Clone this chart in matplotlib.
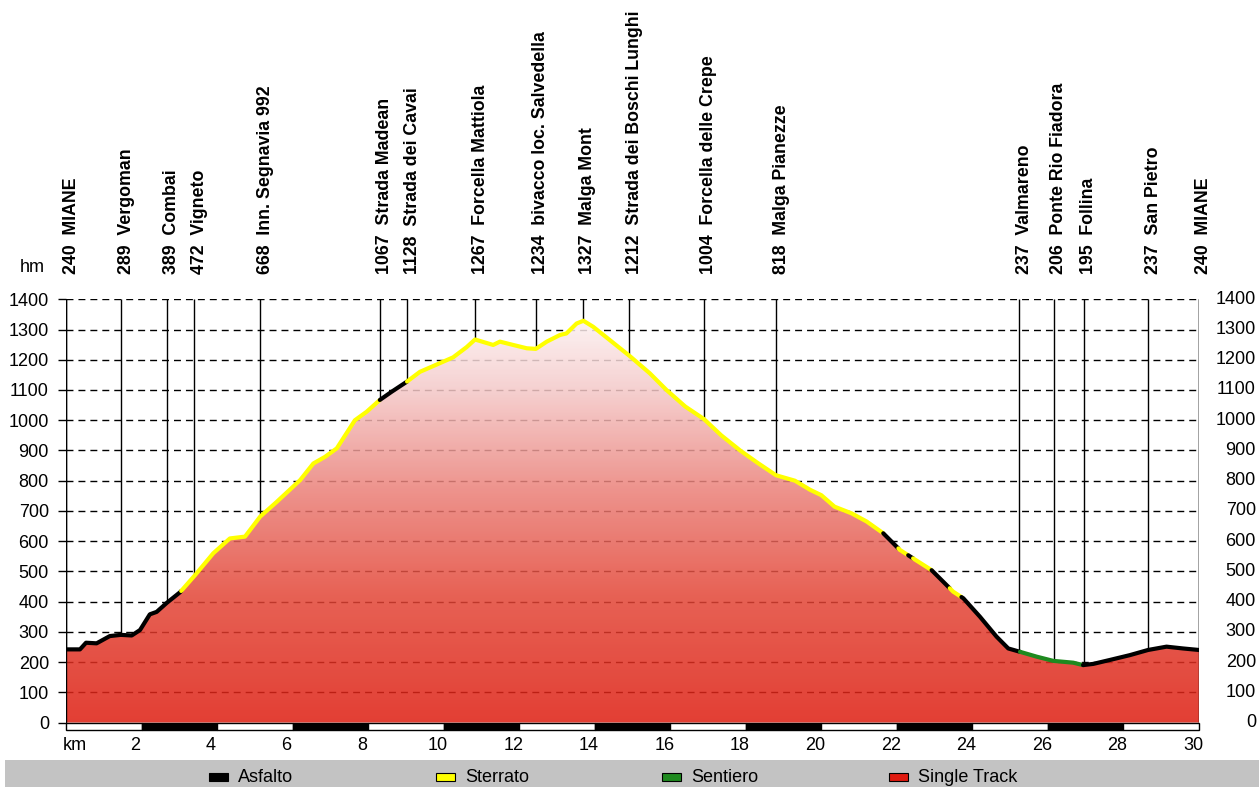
import matplotlib
matplotlib.use('Agg')
import matplotlib.pyplot as plt
import numpy as np
from matplotlib.patches import Rectangle, Polygon
from matplotlib.colors import LinearSegmentedColormap

plt.rcParams['font.family'] = ['Liberation Sans', 'DejaVu Sans']

# elevation profile (km, m)
km = [0.00, 0.37, 0.53, 0.81, 1.16, 1.45, 1.74, 1.96, 2.22, 2.40, 2.67, 3.02,
      3.42, 3.90, 4.34, 4.74, 5.14, 5.58, 6.20, 6.55, 6.86, 7.17, 7.65, 7.96,
      8.31, 8.62, 9.02, 9.37, 9.72, 10.25, 10.61, 10.83, 11.31, 11.49, 11.84,
      12.20, 12.44, 12.73, 13.08, 13.25, 13.52, 13.70, 13.96, 14.45, 14.93,
      15.46, 15.90, 16.40, 16.89, 17.35, 17.85, 18.30, 18.80, 19.30, 19.70,
      20.00, 20.35, 20.80, 21.20, 21.64, 22.08, 22.43, 22.92, 23.49, 23.76,
      24.20, 24.64, 24.95, 25.26, 25.70, 26.14, 26.67, 26.93, 27.20, 27.64,
      28.17, 28.65, 29.14, 29.58, 30.00]
elev = [242, 242, 264, 262, 286, 290, 288, 306, 358, 366, 396, 431,
        488, 560, 609, 615, 681, 730, 802, 857, 879, 907, 1000, 1028,
        1067, 1094, 1127, 1160, 1179, 1208, 1242, 1267, 1249, 1260, 1249,
        1238, 1236, 1260, 1282, 1287, 1320, 1329, 1309, 1260, 1212,
        1155, 1100, 1045, 1004, 950, 900, 860, 818, 800, 770,
        752, 714, 692, 665, 626, 571, 543, 504, 433, 411,
        350, 284, 245, 234, 218, 204, 198, 190, 194, 207,
        223, 240, 251, 245, 240]

# waypoints
wp_km = [0.0, 1.46, 2.67, 3.39, 5.14, 8.31, 9.03, 10.84, 12.44, 13.68, 14.92,
         16.89, 18.80, 25.24, 26.16, 26.95, 28.65, 30.0]
wp_elev = [240, 289, 389, 472, 668, 1067, 1128, 1267, 1234, 1327, 1212,
           1004, 818, 237, 206, 195, 237, 240]
wp_name = ['MIANE', 'Vergoman', 'Combai', 'Vigneto', 'Inn. Segnavia 992',
           'Strada Madean', 'Strada dei Cavai', 'Forcella Mattiola',
           'bivacco loc. Salvedella', 'Malga Mont', 'Strada dei Boschi Lunghi',
           'Forcella delle Crepe', 'Malga Pianezze', 'Valmareno',
           'Ponte Rio Fiadora', 'Follina', 'San Pietro', 'MIANE']

# surface type along the track: 0 asfalto, 1 sterrato, 2 sentiero
seg_start = [0.0, 3.05, 8.31, 9.03, 21.64, 22.04, 22.30, 22.43, 22.92, 23.40, 23.71, 25.26, 26.93]
seg_end = [3.05, 8.31, 9.03, 21.64, 22.04, 22.30, 22.43, 22.92, 23.40, 23.71, 25.26, 26.93, 30.0]
seg_type = [0, 1, 0, 1, 0, 1, 0, 1, 0, 1, 0, 2, 0]

surface_names = ['Asfalto', 'Sterrato', 'Sentiero', 'Single Track']
surface_colors = ['#000000', '#ffff00', '#1f8a1f', '#e01a10']

y_ticks = list(range(0, 1401, 100))
x_ticks = list(range(2, 31, 2))

W, H = 1259, 787
fig = plt.figure(figsize=(W / 100, H / 100), dpi=100)
ax = fig.add_axes([66 / W, (H - 730.4) / H, (1199 - 66) / W, (730.4 - 299.3) / H])
for s in ax.spines.values():
    s.set_visible(False)

# dashed grid
ax.hlines(y_ticks[1:], 0, 30, colors='black', linestyles=(0, (5, 3.6)), linewidth=1, zorder=1)

# gradient fill below profile
kma = np.array(km)
ela = np.array(elev)
poly = Polygon([(0, 0)] + list(zip(km, elev)) + [(30, 0)], closed=True,
               facecolor='none', edgecolor='none')
ax.add_patch(poly)
cmap = LinearSegmentedColormap.from_list('prof', [
    (0.0, (0.87, 0.11, 0.06)),
    (0.3, (0.89, 0.27, 0.21)),
    (0.55, (0.92, 0.50, 0.47)),
    (0.8, (0.96, 0.80, 0.80)),
    (1.0, (1.0, 0.99, 0.99))])
grad = np.linspace(0, 1, 256).reshape(-1, 1)
im = ax.imshow(grad, extent=(0, 30, 0, 1400), origin='lower', cmap=cmap,
               aspect='auto', alpha=0.85, zorder=2)
im.set_clip_path(poly)

# waypoint lines
bottoms = np.interp(wp_km, kma, ela)
ax.vlines(wp_km, bottoms, 1400, colors='black', linewidth=1, zorder=3)
ax.plot([0, 0], [0, 1400], color='black', lw=1, zorder=3)
ax.plot([30, 30], [0, 1400], color='black', lw=1, zorder=3)

# coloured profile line
for s, e, t in zip(seg_start, seg_end, seg_type):
    m = (kma > s) & (kma < e)
    xs = np.concatenate([[s], kma[m], [e]])
    ys = np.interp(xs, kma, ela)
    ax.plot(xs, ys, color=surface_colors[t], lw=3.0, solid_capstyle='round',
            solid_joinstyle='round', zorder=4)

# km scale bar
for i in range(15):
    ax.add_patch(Rectangle((2 * i, -26), 2, 26, facecolor='white' if i % 2 == 0 else 'black',
                           edgecolor='black', lw=1, zorder=5, clip_on=False))

ax.set_xlim(0, 30)
ax.set_ylim(-26, 1400)
ax.set_xticks([])
ax.set_yticks(y_ticks)
ax.tick_params(axis='y', length=5.8, width=1, pad=6.5, labelsize=13)

for v in y_ticks:
    ax.annotate(str(v), xy=(1256, v), xycoords=('figure pixels', 'data'),
                ha='right', va='center', fontsize=13)
for t in x_ticks:
    ax.annotate(str(t), xy=(t, H - 745), xycoords=('data', 'figure pixels'),
                xytext=(-6, 0), textcoords='offset pixels', ha='center', va='center', fontsize=13)
fig.text(63 / W, 1 - 745 / H, 'km', ha='left', va='center', fontsize=13)
fig.text(32 / W, 1 - 268 / H, 'hm', ha='center', va='center', fontsize=13)

for k, e, n in zip(wp_km, wp_elev, wp_name):
    ax.annotate(f'{e}  {n}', xy=(k, H - 274), xycoords=('data', 'figure pixels'),
                xytext=(5, 0), textcoords='offset pixels', rotation=90,
                ha='center', va='bottom', fontsize=12.8, fontweight='bold')

# legend band
fig.add_artist(Rectangle((5 / W, 0), 1 - 5 / W, 27 / H, transform=fig.transFigure,
                         facecolor='#c3c3c3', edgecolor='none', zorder=0))
leg_x = [209, 436, 662, 889]
for x0, name, col in zip(leg_x, surface_names, surface_colors):
    fig.add_artist(Rectangle((x0 / W, (H - 781) / H), 19 / W, 8 / H, transform=fig.transFigure,
                             facecolor=col, edgecolor='black', lw=0.8))
    fig.text((x0 + 29) / W, 1 - 777 / H, name, ha='left', va='center', fontsize=13)

fig.savefig('out.png', dpi=100)
